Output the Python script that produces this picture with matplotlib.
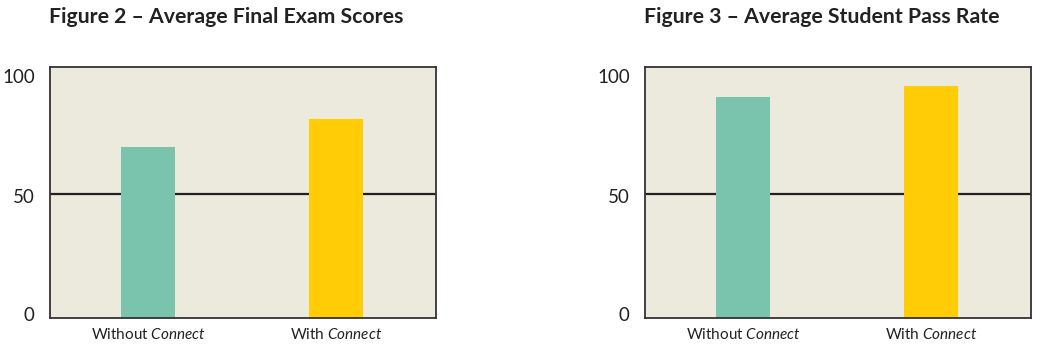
import matplotlib
matplotlib.use("Agg")
import matplotlib.pyplot as plt
import matplotlib.transforms as mtransforms

# Data
categories = ["Without $\\mathit{Connect}$", "With $\\mathit{Connect}$"]
exam_scores = [68.8, 80.0]
pass_rates = [88.9, 93.3]
titles = ["Figure 2 \u2013 Average Final Exam Scores", "Figure 3 \u2013 Average Student Pass Rate"]
yticks = [0, 50, 100]

plt.rcParams['font.family'] = ['Lato', 'DejaVu Sans']
plt.rcParams['mathtext.fontset'] = 'custom'
plt.rcParams['mathtext.rm'] = 'Lato'
plt.rcParams['mathtext.it'] = 'Lato:italic'

bg = '#ECE9DD'
colors = ['#7AC4AE', '#FFCC05']

fig = plt.figure(figsize=(10.4, 3.51), dpi=100)
axes_specs = [(50, 386), (645, 386)]
title_x = [226, 822]
label_shift_px = {0: 4, 50: -2, 100: -7}
for i, (vals, title) in enumerate(zip([exam_scores, pass_rates], titles)):
    left, width = axes_specs[i]
    ax = fig.add_axes([left / 1040, (351 - 318.3) / 351, width / 1040, (318.3 - 67) / 351])
    ax.set_facecolor(bg)
    ax.set_xlim(-0.525, 1.535)
    ax.set_ylim(0, 101)
    ax.axhline(50, color='#222222', lw=1.6, zorder=1)
    ax.bar(range(len(categories)), vals, width=0.289, color=colors, zorder=2)
    ax.set_xticks(range(len(categories)))
    ax.set_xticklabels(categories, fontsize=11, color='#222222')
    ax.set_yticks(yticks)
    ax.set_yticklabels([str(t) for t in yticks], fontsize=13.5, color='#222222')
    ax.tick_params(axis='y', length=0, pad=11)
    ax.tick_params(axis='x', length=0, pad=6)
    for t, lab in zip(yticks, ax.get_yticklabels()):
        lab.set_transform(lab.get_transform() + mtransforms.ScaledTranslation(0, label_shift_px[t] / 100, fig.dpi_scale_trans))
    for s in ax.spines.values():
        s.set_color('#333333')
        s.set_linewidth(1.3)
    fig.text(title_x[i] / 1040, 1 - 17 / 351, title, ha='center', va='center',
             fontsize=15.3, fontweight='bold', color='#222222')

fig.savefig('out.png', dpi=100)
